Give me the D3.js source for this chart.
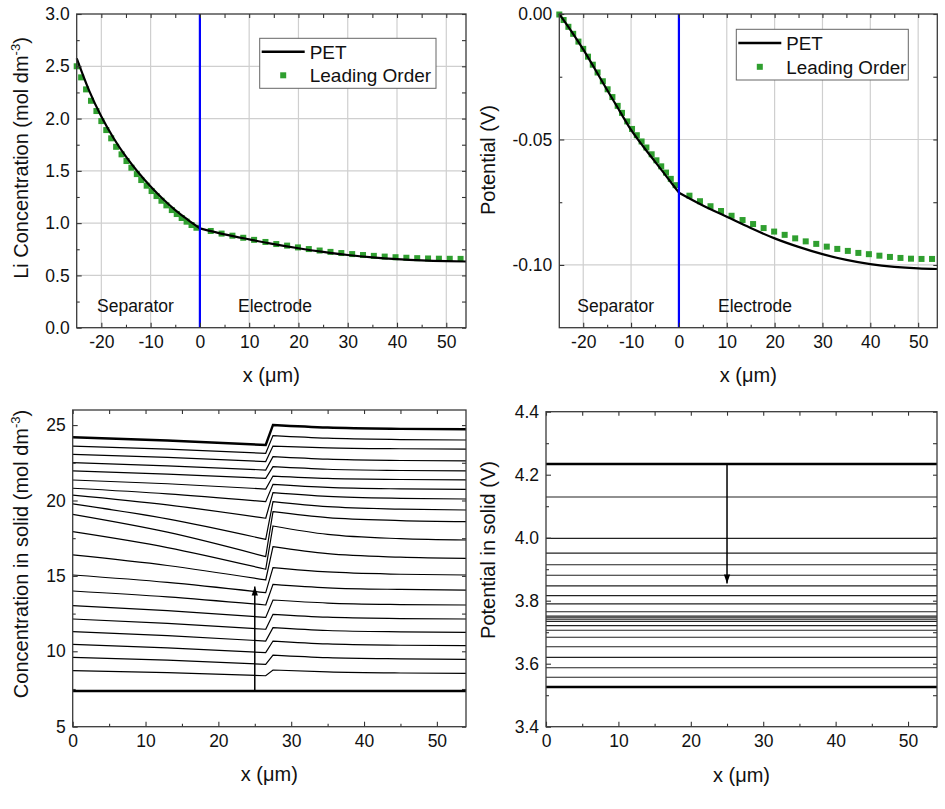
<!DOCTYPE html>
<html><head><meta charset="utf-8">
<script src="https://cdn.jsdelivr.net/npm/d3@7"></script>
<style>body{margin:0;background:#fff} svg text{font-family:"Liberation Sans",Arial,sans-serif;fill:#111}</style>
</head><body>
<svg id="c" width="945" height="809"></svg>
<script>
// ---------------- DATA ----------------
// Leading-order sample positions (µm)
const sepX  = [-25.0,-24.1,-23.1,-22.1,-21.0,-20.0,-19.0,-18.0,-17.0,-15.9,-14.9,-13.9,-12.8,-11.9,-10.8,-9.8,-8.8,-7.8,-6.8,-5.7,-4.7,-3.7,-2.7,-1.7,-0.7];
const elecX = [2.2,4.4,6.6,8.8,11.0,13.3,15.5,17.7,19.9,22.1,24.3,26.5,28.7,30.9,33.1,35.3,37.5,39.7,41.9,44.1,46.3,48.5,50.7,52.9];

// Panel (a): Li concentration in electrolyte
const petSepX  = [-25,-22.5,-20,-17.5,-15,-12.5,-10,-7.5,-5,-2.5,0];
const petElecX = [0,5,10,15,20,25,30,35,40,45,50,54];
const concPETSep  = [2.576,2.27,2.02,1.812,1.635,1.484,1.35,1.231,1.125,1.034,0.950];
const concPETElec = [0.950,0.893,0.845,0.800,0.760,0.725,0.695,0.672,0.655,0.643,0.636,0.633];
const concLOSep  = [2.50,2.394,2.279,2.170,2.072,1.976,1.890,1.811,1.730,1.658,1.594,1.530,1.469,1.412,1.358,1.307,1.259,1.214,1.170,1.125,1.087,1.049,1.014,0.982,0.956];
const concLOElec = [0.925,0.90,0.88,0.86,0.84,0.82,0.80,0.785,0.768,0.752,0.738,0.725,0.714,0.704,0.695,0.687,0.680,0.674,0.669,0.665,0.662,0.660,0.659,0.658];

// Panel (b): electrolyte potential
const potPETSep  = [0,-0.0068,-0.0141,-0.0221,-0.0303,-0.0383,-0.0462,-0.0527,-0.0588,-0.0650,-0.0712];
const potPETElec = [-0.0712,-0.0763,-0.0808,-0.0853,-0.0894,-0.0928,-0.0957,-0.0980,-0.0997,-0.1008,-0.1014,-0.1016];
const potLOSep  = [-0.0002,-0.0024,-0.0051,-0.0079,-0.0110,-0.0139,-0.0170,-0.0202,-0.0233,-0.0268,-0.0300,-0.0331,-0.0366,-0.0394,-0.0428,-0.0458,-0.0483,-0.0508,-0.0532,-0.0559,-0.0583,-0.0607,-0.0632,-0.0657,-0.0682];
const potLOElec = [-0.0724,-0.0746,-0.0766,-0.0785,-0.0804,-0.0821,-0.0837,-0.0853,-0.0867,-0.0880,-0.0894,-0.0906,-0.0916,-0.0927,-0.0936,-0.0944,-0.0952,-0.0957,-0.0963,-0.0968,-0.0972,-0.0975,-0.0976,-0.0976];

// Panel (c): concentration in solid, one row per time; columns at solidX
const solidLeftX  = [0,13,26.5];
const solidRightX = [27.5,35,45,54];
const solidLeft = [
  [24.19,23.98,23.68],[23.61,23.41,23.13],[23.06,22.86,22.58],[22.51,22.30,22.02],
  [21.96,21.75,21.47],[21.36,21.11,20.76],[20.81,20.44,19.92],[20.36,19.71,18.82],
  [19.77,18.78,17.42],[19.08,17.90,16.28],[17.93,16.88,15.44],[16.39,15.69,14.73],
  [15.06,14.57,13.89],[14.00,13.61,13.07],[13.03,12.70,12.25],[12.14,11.85,11.46],
  [11.30,11.04,10.68],[10.46,10.23,9.91],[9.60,9.41,9.14],[8.72,8.58,8.38],[7.37,7.37,7.37]
];
const solidRight = [
  [25.01,24.84,24.75,24.72],[24.30,24.13,24.04,24.01],[23.61,23.49,23.43,23.41],[22.91,22.74,22.65,22.62],
  [22.24,22.07,21.99,21.96],[21.62,21.46,21.39,21.36],[21.07,20.87,20.77,20.74],[20.52,20.27,20.14,20.10],
  [19.92,19.59,19.43,19.37],[19.26,18.86,18.67,18.60],[18.31,17.75,17.47,17.38],[16.94,16.47,16.24,16.16],
  [15.55,15.26,15.11,15.06],[14.44,14.21,14.10,14.06],[13.40,13.20,13.10,13.07],[12.45,12.26,12.17,12.14],
  [11.57,11.38,11.29,11.26],[10.68,10.49,10.40,10.37],[9.75,9.58,9.50,9.47],[8.76,8.63,8.56,8.54],[7.37,7.37,7.37,7.37]
];
const solidArrow = [[25,7.37],[25,14.29]];

// Panel (d): potential in solid (flat lines)
const solidPot = [4.234,4.129,3.998,3.951,3.914,3.881,3.847,3.816,3.790,3.765,3.751,3.746,3.741,3.7345,3.721,3.706,3.684,3.654,3.620,3.587,3.557,3.526];
const solidPotArrow = [[25,4.234],[25,3.855]];

// Tick values
const xTicksTop = [-20,-10,0,10,20,30,40,50];
const xMinorTop = [-15,-5,5,15,25,35,45];
const xTicksBot = [0,10,20,30,40,50];
const xMinorBot = [5,15,25,35,45];
const yTicksA = [0,0.5,1.0,1.5,2.0,2.5,3.0];
const yMinorA = [0.25,0.75,1.25,1.75,2.25,2.75];
const yTicksB = [0,-0.05,-0.10];
const yMinorB = [-0.025,-0.075];
const yTicksC = [5,10,15,20,25];
const yMinorC = [7.5,12.5,17.5,22.5];
const yTicksD = [3.4,3.6,3.8,4.0,4.2,4.4];
const yMinorD = [3.5,3.7,3.9,4.1,4.3];

// ---------------- DRAW ----------------
const svg = d3.select("#c");
const FONT = '"Liberation Sans", Arial, sans-serif';
const GREEN = "#2f9f2f";

svg.append("defs").append("marker")
  .attr("id","arr").attr("viewBox","0 0 10 10").attr("refX",10).attr("refY",5)
  .attr("markerWidth",9).attr("markerHeight",9).attr("markerUnits","userSpaceOnUse")
  .attr("orient","auto")
  .append("path").attr("d","M0,1.5 L10,5 L0,8.5 Z").attr("fill","#000");

function makePanel(c) {
  const x = d3.scaleLinear().domain(c.xd).range([c.l, c.r]);
  const y = d3.scaleLinear().domain(c.yd).range([c.b, c.t]);
  const g = svg.append("g");
  if (c.grid) {
    const gg = g.append("g").attr("stroke", "#cfcfcf").attr("stroke-width", 1.2);
    c.xt.filter(v => v > c.xd[0] && v < c.xd[1]).forEach(v =>
      gg.append("line").attr("x1", x(v)).attr("x2", x(v)).attr("y1", c.t).attr("y2", c.b));
    c.yt.filter(v => v > Math.min(...c.yd) && v < Math.max(...c.yd)).forEach(v =>
      gg.append("line").attr("y1", y(v)).attr("y2", y(v)).attr("x1", c.l).attr("x2", c.r));
  }
  const data = g.append("g");
  return {x, y, g, data, c};
}

function finishPanel(p) {
  const {x, y, g, c} = p;
  const ax = g.append("g");
  const style = sel => {
    sel.select(".domain").remove();
    sel.selectAll("line").attr("stroke", "#333").attr("stroke-width", 1.1);
    sel.attr("font-family", FONT).attr("font-size", 17.5);
    sel.selectAll("text").attr("fill", "#111");
  };
  ax.append("g").attr("transform", `translate(0,${c.b})`)
    .call(d3.axisBottom(x).tickValues(c.xt).tickSize(-5).tickPadding(8).tickFormat(d => String(d))).call(style);
  ax.append("g").attr("transform", `translate(0,${c.b})`)
    .call(d3.axisBottom(x).tickValues(c.xm).tickSize(-3).tickFormat("")).call(style);
  ax.append("g").attr("transform", `translate(0,${c.t})`)
    .call(d3.axisTop(x).tickValues(c.xt.concat(c.xm)).tickSize(-4).tickFormat("")).call(style);
  ax.append("g").attr("transform", `translate(${c.l},0)`)
    .call(d3.axisLeft(y).tickValues(c.yt).tickSize(-5).tickPadding(7).tickFormat(c.yf)).call(style);
  ax.append("g").attr("transform", `translate(${c.l},0)`)
    .call(d3.axisLeft(y).tickValues(c.ym).tickSize(-3).tickFormat("")).call(style);
  ax.append("g").attr("transform", `translate(${c.r},0)`)
    .call(d3.axisRight(y).tickValues(c.yt.concat(c.ym)).tickSize(-4).tickFormat("")).call(style);
  g.append("rect").attr("x", c.l).attr("y", c.t).attr("width", c.r - c.l).attr("height", c.b - c.t)
    .attr("fill", "none").attr("stroke", "#3a3a3a").attr("stroke-width", 1.3);
  // x title
  g.append("text").attr("x", (c.l + c.r) / 2).attr("y", c.xtY).attr("text-anchor", "middle")
    .attr("font-size", 20).text("x (\u03bcm)");
  // y title
  const yt = g.append("text").attr("transform", `translate(${c.ytX},${c.ytY}) rotate(-90)`)
    .attr("text-anchor", "middle").attr("font-size", 20);
  yt.append("tspan").text(c.ytitle);
  if (c.ysup) {
    yt.append("tspan").attr("dy", -8).attr("font-size", 13).text("-3");
    yt.append("tspan").attr("dy", 8).text(")");
  }
}

const lineMono = (x, y) => d3.line().x(d => x(d[0])).y(d => y(d[1])).curve(d3.curveMonotoneX);

function legend(g, bx, by, bw, bh, fs) {
  g.append("rect").attr("x", bx).attr("y", by).attr("width", bw).attr("height", bh)
    .attr("fill", "#fff").attr("stroke", "#666").attr("stroke-width", 1);
  const y1 = by + bh * 0.27, y2 = by + bh * 0.74;
  g.append("line").attr("x1", bx + 2).attr("x2", bx + 45).attr("y1", y1).attr("y2", y1)
    .attr("stroke", "#000").attr("stroke-width", 2.6);
  g.append("text").attr("x", bx + 50).attr("y", y1 + fs * 0.36).attr("font-size", fs).text("PET");
  g.append("rect").attr("x", bx + 23.5 - 3).attr("y", y2 - 3).attr("width", 6).attr("height", 6).attr("fill", GREEN);
  g.append("text").attr("x", bx + 50).attr("y", y2 + fs * 0.36).attr("font-size", fs).text("Leading Order");
}

function squares(p, xs, ys) {
  p.data.selectAll(null).data(d3.zip(xs, ys)).join("rect")
    .attr("x", d => p.x(d[0]) - 3).attr("y", d => p.y(d[1]) - 3)
    .attr("width", 6).attr("height", 6).attr("fill", GREEN);
}

// ---- Panel A ----
const A = makePanel({l:76.7, r:466, t:14, b:327.7, xd:[-25,54], yd:[0,3], grid:true,
  xt:xTicksTop, xm:xMinorTop, yt:yTicksA, ym:yMinorA, yf:d => d.toFixed(1),
  xtY:382, ytX:27.5, ytY:158, ytitle:"Li Concentration (mol dm", ysup:true});
squares(A, sepX, concLOSep);
squares(A, elecX, concLOElec);
A.data.append("path").attr("d", lineMono(A.x, A.y)(d3.zip(petSepX, concPETSep)))
  .attr("fill","none").attr("stroke","#000").attr("stroke-width",2.2);
A.data.append("path").attr("d", lineMono(A.x, A.y)(d3.zip(petElecX, concPETElec)))
  .attr("fill","none").attr("stroke","#000").attr("stroke-width",2.2);
A.data.append("line").attr("x1",A.x(0)).attr("x2",A.x(0)).attr("y1",A.y(0)).attr("y2",A.y(3))
  .attr("stroke","#0000ff").attr("stroke-width",2.2);
A.data.append("text").attr("x",97).attr("y",311.5).attr("font-size",17.5).text("Separator");
A.data.append("text").attr("x",238).attr("y",311.5).attr("font-size",17.5).text("Electrode");
legend(A.data, 259.7, 38.3, 176.3, 50, 19);
finishPanel(A);

// ---- Panel B ----
const B = makePanel({l:559.3, r:937.3, t:14, b:327.7, xd:[-25,54], yd:[-0.125,0], grid:true,
  xt:xTicksTop, xm:xMinorTop, yt:yTicksB, ym:yMinorB, yf:d => d.toFixed(2),
  xtY:382, ytX:495, ytY:160, ytitle:"Potential (V)", ysup:false});
squares(B, sepX, potLOSep);
squares(B, elecX, potLOElec);
B.data.append("path").attr("d", lineMono(B.x, B.y)(d3.zip(petSepX, potPETSep)))
  .attr("fill","none").attr("stroke","#000").attr("stroke-width",2.2);
B.data.append("path").attr("d", lineMono(B.x, B.y)(d3.zip(petElecX, potPETElec)))
  .attr("fill","none").attr("stroke","#000").attr("stroke-width",2.2);
B.data.append("line").attr("x1",B.x(0)).attr("x2",B.x(0)).attr("y1",B.y(-0.125)).attr("y2",B.y(0))
  .attr("stroke","#0000ff").attr("stroke-width",2.2);
B.data.append("text").attr("x",577.3).attr("y",312).attr("font-size",17.5).text("Separator");
B.data.append("text").attr("x",718).attr("y",312).attr("font-size",17.5).text("Electrode");
legend(B.data, 736.3, 29.3, 172, 50.7, 18.8);
finishPanel(B);

// ---- Panel C ----
const C = makePanel({l:72.7, r:466, t:410, b:726.7, xd:[0,54], yd:[5,26], grid:false,
  xt:xTicksBot, xm:xMinorBot, yt:yTicksC, ym:yMinorC, yf:d => String(d),
  xtY:781, ytX:28, ytY:554, ytitle:"Concentration in solid (mol dm", ysup:true});
const lc = lineMono(C.x, C.y);
solidLeft.forEach((row, i) => {
  const left = lc(d3.zip(solidLeftX, row));
  const right = lc(d3.zip(solidRightX, solidRight[i])).replace(/^M/, "L");
  const thick = (i === 0 || i === solidLeft.length - 1);
  C.data.append("path").attr("d", left + right).attr("fill","none")
    .attr("stroke","#000").attr("stroke-width", thick ? 2.4 : 1.2);
});
C.data.append("line").attr("x1",C.x(solidArrow[0][0])).attr("x2",C.x(solidArrow[1][0]))
  .attr("y1",C.y(solidArrow[0][1])).attr("y2",C.y(solidArrow[1][1]))
  .attr("stroke","#000").attr("stroke-width",1.5).attr("marker-end","url(#arr)");
finishPanel(C);

// ---- Panel D ----
const D = makePanel({l:546, r:937, t:411.7, b:726.7, xd:[0,54], yd:[3.4,4.4], grid:false,
  xt:xTicksBot, xm:xMinorBot, yt:yTicksD, ym:yMinorD, yf:d => d.toFixed(1),
  xtY:781.5, ytX:495, ytY:550, ytitle:"Potential in solid (V)", ysup:false});
solidPot.forEach((v, i) => {
  const thick = (i === 0 || i === solidPot.length - 1);
  D.data.append("line").attr("x1", D.x(0)).attr("x2", D.x(54)).attr("y1", D.y(v)).attr("y2", D.y(v))
    .attr("stroke", thick ? "#000" : "#222").attr("stroke-width", thick ? 2.4 : 1.1);
});
D.data.append("line").attr("x1",D.x(solidPotArrow[0][0])).attr("x2",D.x(solidPotArrow[1][0]))
  .attr("y1",D.y(solidPotArrow[0][1])).attr("y2",D.y(solidPotArrow[1][1]))
  .attr("stroke","#000").attr("stroke-width",1.5).attr("marker-end","url(#arr)");
finishPanel(D);
</script>
</body></html>
